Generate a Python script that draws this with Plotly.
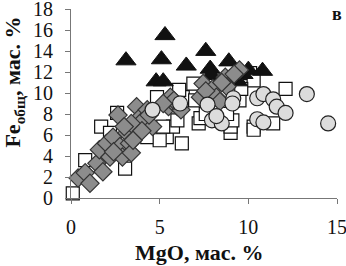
import plotly.graph_objects as go

sq_x = [0.1, 0.8, 3.05, 1.7, 2.2, 2.6, 3.5, 4.3, 5.4, 6.25, 5.75, 5.2, 6.0, 6.3, 6.9, 7.2, 7.3, 7.6,
        9.0, 9.0, 9.1, 9.5, 10.3, 10.3, 11.4, 12.1, 10.1, 10.3, 8.0, 4.85, 8.8, 4.3, 5.0, 6.1, 7.0, 8.5, 9.6]
sq_y = [0.45, 3.6, 2.8, 6.8, 6.2, 8.1, 6.8, 5.8, 5.8, 5.2, 6.8, 6.8, 7.4, 9.6, 10.9, 7.1, 7.6, 8.0,
        6.2, 6.8, 7.4, 9.3, 6.8, 6.5, 7.1, 10.4, 11.9, 11.2, 10.9, 9.6, 8.0, 7.4, 5.5, 10.3, 9.3, 9.8, 10.4]

tri_x = [3.1, 5.3, 5.1, 4.8, 5.2, 6.5, 7.6, 7.85, 7.9, 8.9, 9.4, 10.0, 10.8, 9.7]
tri_y = [13.1, 15.5, 13.2, 11.1, 11.1, 12.6, 14.0, 12.3, 11.7, 13.0, 11.1, 12.2, 12.1, 11.8]

dia_x = [0.4, 0.8, 1.07, 1.46, 1.8, 1.6, 2.0, 2.2, 2.37, 2.76, 2.9, 2.65, 3.15, 3.3, 3.4, 3.5,
         3.7, 3.9, 4.06, 4.3, 4.6, 3.4, 5.6, 5.5, 6.0, 6.2, 5.8, 7.45, 7.3, 8.0, 8.2, 8.7, 8.8,
         9.5, 8.4, 4.0, 4.4, 5.2, 7.6, 8.5, 9.2, 3.0, 2.4]
dia_y = [1.9, 2.4, 1.4, 3.3, 2.5, 4.6, 5.2, 3.9, 5.8, 4.9, 3.9, 7.9, 6.2, 5.2, 4.3, 5.5,
         8.7, 7.7, 7.4, 8.4, 6.8, 7.1, 9.6, 8.7, 8.7, 8.4, 9.3, 10.9, 9.6, 10.4, 9.6, 11.5, 10.6,
         12.2, 9.2, 6.4, 7.9, 9.0, 10.2, 11.0, 11.8, 6.8, 4.4]

cir_x = [4.6, 6.15, 7.7, 7.95, 8.5, 8.2, 9.15, 9.1, 10.5, 10.85, 10.5, 10.85, 11.4, 11.6,
         12.1, 13.3, 14.5]
cir_y = [8.4, 9.0, 8.9, 7.4, 7.1, 7.8, 9.5, 9.0, 7.5, 7.2, 9.5, 9.9, 9.4, 8.7,
         8.1, 9.9, 7.1]

x_ticks = [0, 5, 10, 15]
y_ticks = [0, 2, 4, 6, 8, 10, 12, 14, 16, 18]

serif = "Liberation Serif, Times New Roman, serif"

fig = go.Figure()
fig.add_trace(go.Scatter(x=sq_x, y=sq_y, mode="markers", cliponaxis=False,
                         marker=dict(symbol="square", size=13, color="white",
                                     line=dict(color="#111", width=1.2))))
fig.add_trace(go.Scatter(x=tri_x, y=tri_y, mode="markers", cliponaxis=False,
                         marker=dict(symbol="triangle-up", size=17.5, color="#111",
                                     line=dict(color="#111", width=1))))
fig.add_trace(go.Scatter(x=dia_x, y=dia_y, mode="markers", cliponaxis=False,
                         marker=dict(symbol="diamond", size=14, color="#8c8c8c",
                                     line=dict(color="#333", width=1.2))))
fig.add_trace(go.Scatter(x=cir_x, y=cir_y, mode="markers", cliponaxis=False,
                         marker=dict(symbol="circle", size=15, color="#dcdcdc",
                                     line=dict(color="#222", width=1.2))))

fig.update_layout(
    width=346, height=266, showlegend=False,
    margin=dict(l=71, r=9, t=9, b=68),
    plot_bgcolor="white", paper_bgcolor="white",
    font=dict(family=serif, size=20, color="#111"),
    xaxis=dict(range=[0, 15], tickvals=x_ticks, showgrid=False, zeroline=False, automargin=False,
               showline=True, linecolor="#777", linewidth=1, ticks="outside", ticklen=5,
               tickcolor="#777", ticklabelstandoff=6, ticklabeloverflow="allow"),
    yaxis=dict(range=[0, 18], tickvals=y_ticks, showgrid=False, zeroline=False, automargin=False,
               showline=True, linecolor="#777", linewidth=1, ticks="outside", ticklen=5,
               tickcolor="#777", ticklabelstandoff=8, ticklabeloverflow="allow"),
    annotations=[
        dict(text="<b>в</b>", x=1.0, y=0.974, xref="paper", yref="paper",
             xanchor="center", yanchor="middle", showarrow=False,
             font=dict(family=serif, size=18, color="#111")),
        dict(text="<b>MgO, мас. %</b>", x=0.481, y=-0.291, xref="paper", yref="paper",
             xanchor="center", yanchor="middle", showarrow=False,
             font=dict(family=serif, size=22, color="#111")),
        dict(text="<b>Fe<sub>общ</sub>, мас. %</b>", x=-0.215, y=0.615, xref="paper", yref="paper",
             xanchor="center", yanchor="middle", showarrow=False, textangle=-90,
             font=dict(family=serif, size=22, color="#111")),
    ],
)
fig.write_html("out.html", config={"displayModeBar": False},
               post_script="document.body.style.margin='0';document.body.style.overflow='hidden';")
